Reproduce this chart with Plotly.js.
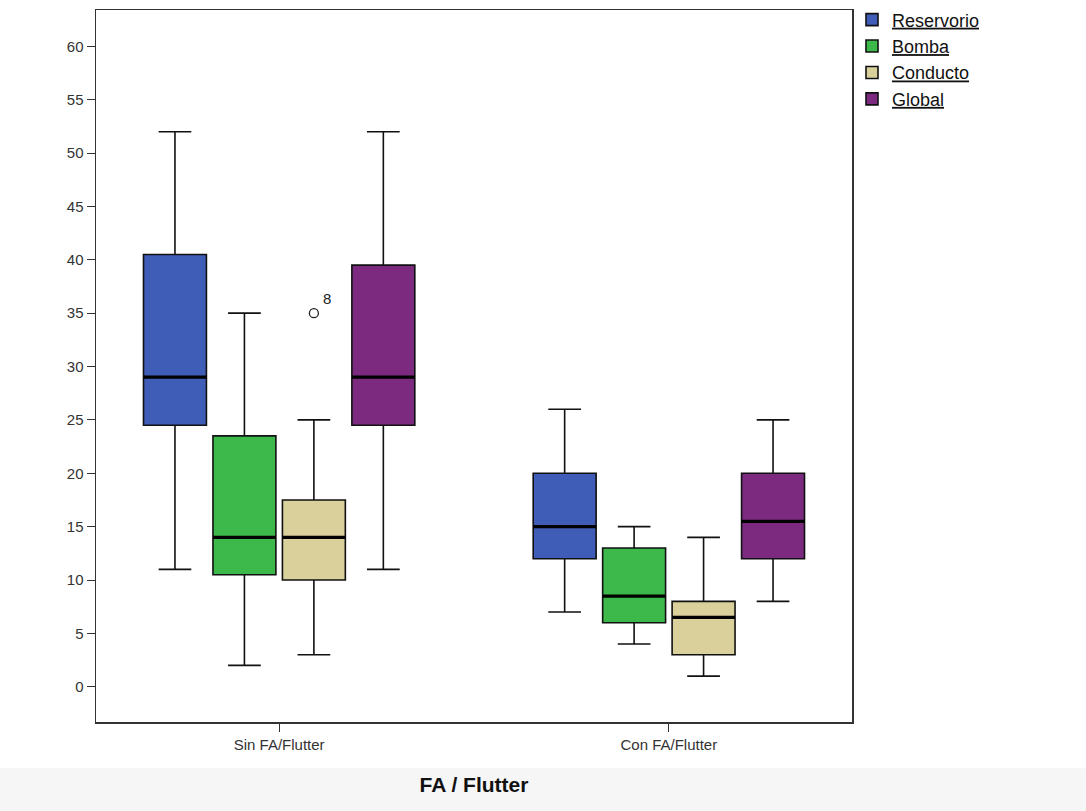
<!DOCTYPE html>
<html>
<head>
<meta charset="utf-8">
<script src="https://cdn.plot.ly/plotly-3.0.1.min.js"></script>
<style>html,body{margin:0;padding:0;background:#fff;}#chart{width:1086px;height:811px;}</style>
</head>
<body>
<div id="chart"></div>
<script>
// ---- Data ----
const categories = ["Sin FA/Flutter", "Con FA/Flutter"];
const seriesNames = ["Reservorio", "Bomba", "Conducto", "Global"];
const colors = ["#3F5CB6", "#3DB84B", "#D9D09C", "#7B2A80"];

const lowerWhisker = [[11, 7], [2, 4], [3, 1], [11, 8]];
const q1Values     = [[24.5, 12], [10.5, 6], [10, 3], [24.5, 12]];
const medianValues = [[29, 15], [14, 8.5], [14, 6.5], [29, 15.5]];
const q3Values     = [[40.5, 20], [23.5, 13], [17.5, 8], [39.5, 20]];
const upperWhisker = [[52, 26], [35, 15], [25, 14], [52, 25]];

// outlier: [series index, category index, value, case label]
const outliers = [[2, 0, 35, "8"]];

const yTicks = [0, 5, 10, 15, 20, 25, 30, 35, 40, 45, 50, 55, 60];

// ---- Layout constants ----
const boxgap = 0.287, boxgroupgap = 0.094;
const nSeries = seriesNames.length;
const groupFrac = 1 - boxgap;
const slotCenter = i => (-0.5 + (i + 0.5) / nSeries) * groupFrac;
const halfWidth = 0.5 * groupFrac * (1 - boxgroupgap) / nSeries;

const traces = seriesNames.map((name, s) => ({
  type: "box",
  name: "<u>" + name + "</u>",
  x: categories,
  q1: q1Values[s],
  median: medianValues[s],
  q3: q3Values[s],
  lowerfence: lowerWhisker[s],
  upperfence: upperWhisker[s],
  fillcolor: colors[s],
  line: {color: "#111", width: 1.6},
  whiskerwidth: 0.52,
  boxpoints: false,
  marker: {color: colors[s]},
  hoverinfo: "y"
}));

const shapes = [];
const annotations = [];
// thick median lines
seriesNames.forEach((n, s) => {
  categories.forEach((c, k) => {
    const xc = k + slotCenter(s);
    shapes.push({type: "line", xref: "x", yref: "y",
      x0: xc - halfWidth, x1: xc + halfWidth,
      y0: medianValues[s][k], y1: medianValues[s][k],
      line: {color: "#000", width: 3.2}});
  });
});
// outliers
outliers.forEach(([s, k, v, lab]) => {
  const xc = k + slotCenter(s);
  shapes.push({type: "circle", xref: "x", yref: "y",
    xsizemode: "pixel", ysizemode: "pixel", xanchor: xc, yanchor: v,
    x0: -4.5, x1: 4.5, y0: -4.5, y1: 4.5,
    line: {color: "#222", width: 1.3}, fillcolor: "rgba(0,0,0,0)"});
  annotations.push({xref: "x", yref: "y", x: xc, y: v, text: lab,
    showarrow: false, xshift: 13, yshift: 15,
    font: {family: "Liberation Sans, Arial", size: 15, color: "#222"}});
});
// light grey band at the bottom of the screenshot
shapes.push({type: "rect", xref: "paper", yref: "paper", layer: "below",
  x0: -0.2, x1: 1.4, y0: -0.065, y1: -0.2, line: {width: 0}, fillcolor: "#f6f6f6"});

const layout = {
  width: 1086, height: 811,
  margin: {l: 96, r: 234, t: 10, b: 89, autoexpand: false},
  paper_bgcolor: "#fff", plot_bgcolor: "#fff",
  boxmode: "group", boxgap: boxgap, boxgroupgap: boxgroupgap,
  showlegend: true,
  legend: {x: 1.0, xanchor: "left", y: 1.012, yanchor: "top",
    font: {family: "Liberation Sans, Arial", size: 18, color: "#111"},
    tracegroupgap: 0, itemwidth: 30, bgcolor: "rgba(0,0,0,0)"},
  xaxis: {
    type: "category", range: [-0.47, 1.47],
    showline: true, mirror: true, linecolor: "#333", linewidth: 1.5,
    ticks: "outside", ticklen: 8, tickcolor: "#333",
    showgrid: false, zeroline: false,
    tickfont: {family: "Liberation Sans Narrow, Liberation Sans, Arial", size: 15, color: "#333"},
    title: {text: "<b>FA / Flutter</b>", font: {family: "Liberation Sans, Arial", size: 21, color: "#111"}, standoff: 26}
  },
  yaxis: {
    range: [-3.3, 63.4], tickvals: yTicks,
    showline: true, mirror: true, linecolor: "#333", linewidth: 1.5,
    ticks: "outside", ticklen: 8, tickcolor: "#333",
    showgrid: false, zeroline: false,
    tickfont: {family: "Liberation Sans, Arial", size: 15, color: "#333"}
  },
  shapes: shapes,
  annotations: annotations
};

Plotly.newPlot("chart", traces, layout, {displayModeBar: false, staticPlot: true});
</script>
</body>
</html>
